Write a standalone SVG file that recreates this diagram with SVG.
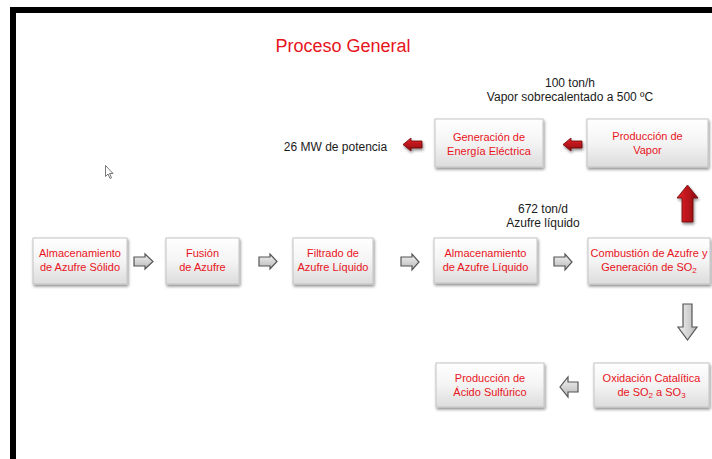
<svg xmlns="http://www.w3.org/2000/svg" width="712" height="459" viewBox="0 0 712 459">
<defs>
<linearGradient id="boxg" x1="0" y1="0" x2="0" y2="1">
<stop offset="0" stop-color="#ffffff"/>
<stop offset="0.5" stop-color="#f4f4f4"/>
<stop offset="1" stop-color="#dcdcdc"/>
</linearGradient>
<linearGradient id="grayh" x1="0" y1="0" x2="0" y2="1">
<stop offset="0" stop-color="#f2f2f2"/>
<stop offset="1" stop-color="#b8b8b8"/>
</linearGradient>
<linearGradient id="grayv" x1="0" y1="0" x2="1" y2="0">
<stop offset="0" stop-color="#f2f2f2"/>
<stop offset="1" stop-color="#b8b8b8"/>
</linearGradient>
<linearGradient id="redh" x1="0" y1="0" x2="0" y2="1">
<stop offset="0" stop-color="#e8222a"/>
<stop offset="1" stop-color="#8c0a0e"/>
</linearGradient>
<linearGradient id="redv" x1="0" y1="0" x2="1" y2="0">
<stop offset="0" stop-color="#e8222a"/>
<stop offset="1" stop-color="#8c0a0e"/>
</linearGradient>
<filter id="sh" x="-10%" y="-10%" width="130%" height="140%">
<feGaussianBlur in="SourceAlpha" stdDeviation="1.5"/>
<feOffset dx="1" dy="2" result="b"/>
<feComponentTransfer><feFuncA type="linear" slope="0.45"/></feComponentTransfer>
<feMerge><feMergeNode/><feMergeNode in="SourceGraphic"/></feMerge>
</filter>
</defs>
<style>
.box{fill:url(#boxg);stroke:#c4c4c4;stroke-width:1;filter:url(#sh)}
.bt{font-family:"Liberation Sans",Arial,sans-serif;font-size:11px;fill:#e8141c;text-anchor:middle}
.nt{font-family:"Liberation Sans",Arial,sans-serif;font-size:12px;fill:#1a1a1a;text-anchor:middle}
.ga{stroke:#555;stroke-width:1.2;stroke-linejoin:miter}
.ra{stroke:#6a0a0a;stroke-width:0.8;filter:url(#sh)}
.sub{font-size:8px}
</style>
<rect x="0" y="0" width="712" height="459" fill="#ffffff"/>
<rect x="10" y="7" width="702" height="6" fill="#000"/>
<rect x="10" y="7" width="6" height="452" fill="#000"/>
<text x="343" y="52" font-family="'Liberation Sans',Arial,sans-serif" font-size="18" fill="#e8141c" text-anchor="middle">Proceso General</text>

<g id="connectors">
<polygon class="ga" fill="url(#grayh)" points="134,257 145,257 145,254 153,261.5 145,269 145,266 134,266"/>
<polygon class="ga" fill="url(#grayh)" points="259,257 270,257 270,254 277,261.5 270,269 270,266 259,266"/>
<polygon class="ga" fill="url(#grayh)" points="401,257 412,257 412,254 419,262 412,270 412,266 401,266"/>
<polygon class="ga" fill="url(#grayh)" points="554,257 565,257 565,254 572,262 565,270 565,266 554,266"/>
<polygon class="ga" fill="url(#grayv)" points="683,304 692,304 692,327 697,327 687.5,340 678,327 683,327"/>
<polygon class="ga" fill="url(#grayh)" points="578,382 568,382 568,377 560,387 568,397 568,392 578,392"/>
<polygon class="ra" fill="url(#redv)" points="682,222 693,222 693,198 698,198 687.5,185 677,198 682,198"/>
<polygon class="ra" fill="url(#redh)" points="582,141 571,141 571,138 563,144.5 571,151 571,148 582,148"/>
<polygon class="ra" fill="url(#redh)" points="422,141 411,141 411,138 403,144.5 411,151 411,148 422,148"/>
</g>

<g id="n1"><rect class="box" x="33" y="238" width="94" height="46"/>
<text class="bt" x="80" y="257">Almacenamiento</text><text class="bt" x="80" y="271">de Azufre Sólido</text></g>
<g id="n2"><rect class="box" x="166" y="238" width="73" height="46"/>
<text class="bt" x="202.5" y="257">Fusión</text><text class="bt" x="202.5" y="271">de Azufre</text></g>
<g id="n3"><rect class="box" x="293" y="238" width="80" height="46"/>
<text class="bt" x="333" y="257">Filtrado de</text><text class="bt" x="333" y="271">Azufre Líquido</text></g>
<g id="n4"><rect class="box" x="434" y="238" width="103" height="45"/>
<text class="bt" x="485.5" y="257">Almacenamiento</text><text class="bt" x="485.5" y="271">de Azufre Líquido</text></g>
<g id="n5"><rect class="box" x="588" y="238" width="122" height="46"/>
<text class="bt" x="649" y="257">Combustión de Azufre y</text><text class="bt" x="649" y="271">Generación de SO<tspan class="sub" dy="2">2</tspan></text></g>
<g id="n6"><rect class="box" x="587" y="119" width="121" height="48"/>
<text class="bt" x="647.5" y="140">Producción de</text><text class="bt" x="647.5" y="154">Vapor</text></g>
<g id="n7"><rect class="box" x="435" y="119" width="108" height="48"/>
<text class="bt" x="489" y="141">Generación de</text><text class="bt" x="489" y="155">Energía Eléctrica</text></g>
<g id="n8"><rect class="box" x="594" y="363" width="115" height="44"/>
<text class="bt" x="651.5" y="382">Oxidación Catalítica</text><text class="bt" x="651.5" y="396">de SO<tspan class="sub" dy="2">2</tspan><tspan dy="-2"> a SO</tspan><tspan class="sub" dy="2">3</tspan></text></g>
<g id="n9"><rect class="box" x="436" y="363" width="108" height="44"/>
<text class="bt" x="490" y="382">Producción de</text><text class="bt" x="490" y="396">Ácido Sulfúrico</text></g>

<text class="nt" x="570" y="87">100 ton/h</text>
<text class="nt" x="570" y="101">Vapor sobrecalentado a 500 ºC</text>
<text class="nt" x="335.5" y="151">26 MW de potencia</text>
<text class="nt" x="543" y="213">672 ton/d</text>
<text class="nt" x="543" y="227">Azufre líquido</text>

<path d="M105.5,165.5 L105.5,176.5 L108,174 L110,178.5 L111.5,177.8 L109.6,173.5 L113,173.5 Z" fill="#fff" stroke="#555" stroke-width="0.8"/>
</svg>
